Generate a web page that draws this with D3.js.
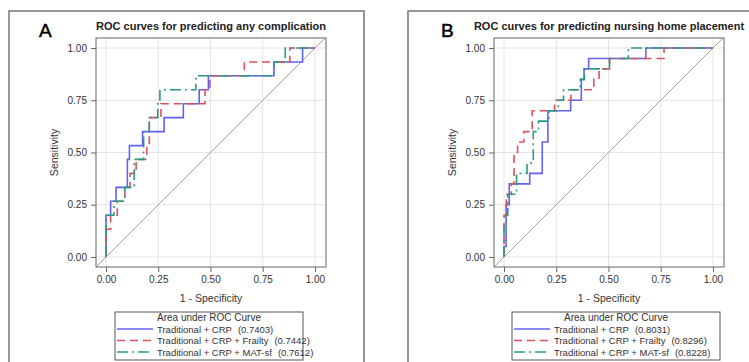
<!DOCTYPE html>
<html>
<head>
<meta charset="utf-8">
<script src="https://cdn.jsdelivr.net/npm/d3@7"></script>
<style>
  body { margin: 0; background: #fff; }
  svg { font-family: "Liberation Sans", Arial, sans-serif; }
</style>
</head>
<body>
<svg id="chart" width="749" height="362"></svg>
<script>
// ROC points [1 - specificity, sensitivity]
var rocA_crp = [[0,0],[0,0.2],[0.022,0.267],[0.048,0.333],[0.102,0.467],[0.112,0.533],[0.175,0.6],[0.278,0.667],[0.37,0.733],[0.446,0.8],[0.49,0.867],[0.804,0.933],[0.941,1],[1,1]]
var rocA_frailty = [[0,0],[0,0.133],[0.022,0.2],[0.054,0.267],[0.09,0.333],[0.115,0.4],[0.144,0.467],[0.195,0.533],[0.207,0.667],[0.263,0.733],[0.474,0.8],[0.497,0.867],[0.662,0.933],[0.88,1],[1,1]]
var rocA_matsf = [[0,0],[0,0.2],[0.038,0.267],[0.09,0.333],[0.135,0.467],[0.18,0.6],[0.207,0.667],[0.248,0.733],[0.258,0.8],[0.43,0.867],[0.804,0.933],[0.858,1],[1,1]]

var rocB_crp = [[0,0],[0,0.05],[0.01,0.25],[0.025,0.35],[0.123,0.4],[0.183,0.55],[0.21,0.7],[0.319,0.75],[0.37,0.85],[0.383,0.9],[0.405,0.95],[0.679,1],[1,1]]
var rocB_frailty = [[0,0],[0,0.2],[0.011,0.3],[0.035,0.35],[0.048,0.5],[0.065,0.55],[0.095,0.6],[0.135,0.7],[0.242,0.75],[0.32,0.8],[0.43,0.85],[0.455,0.9],[0.505,0.95],[0.766,1],[1,1]]
var rocB_matsf = [[0,0],[0,0.15],[0.01,0.2],[0.018,0.3],[0.06,0.4],[0.11,0.45],[0.14,0.6],[0.165,0.65],[0.215,0.7],[0.26,0.75],[0.285,0.8],[0.365,0.85],[0.385,0.9],[0.505,0.95],[0.595,1],[1,1]]

var modelNames = ['Traditional + CRP', 'Traditional + CRP + Frailty', 'Traditional + CRP + MAT-sf']
var aucA = ['0.7403', '0.7442', '0.7612']
var aucB = ['0.8031', '0.8296', '0.8228']
var tickValues = [0, 0.25, 0.5, 0.75, 1]

var colors = ['#6262f6', '#e0505c', '#2b9a82']
var dashes = [null, '8,5', '11,4,2,4']

var svg = d3.select('#chart')

function drawPanel(opt) {
    // outer panel box
    svg.append('rect')
        .attr('x', opt.boxX).attr('y', 11)
        .attr('width', opt.boxW).attr('height', 400)
        .attr('fill', 'none').attr('stroke', '#777').attr('stroke-width', 1.5)

    svg.append('text')
        .attr('x', opt.letterX).attr('y', 37)
        .attr('font-size', 19).attr('fill', '#000')
        .attr('stroke', '#000').attr('stroke-width', 0.5)
        .text(opt.letter)

    var left = opt.frameX, top = 38, w = 230, h = 229
    var x = d3.scaleLinear().domain([-0.048, 1.053]).range([left, left + w])
    var y = d3.scaleLinear().domain([-0.048, 1.048]).range([top + h, top])

    svg.append('text')
        .attr('x', left + w / 2).attr('y', 30)
        .attr('text-anchor', 'middle')
        .attr('font-size', 11).attr('font-weight', 'bold').attr('fill', '#222')
        .text(opt.title)

    var g = svg.append('g')
    // grid
    g.selectAll('.gx').data(tickValues).enter().append('line')
        .attr('x1', d => x(d)).attr('x2', d => x(d))
        .attr('y1', top).attr('y2', top + h)
        .attr('stroke', '#e4e4e4').attr('stroke-width', 1)
    g.selectAll('.gy').data(tickValues).enter().append('line')
        .attr('y1', d => y(d)).attr('y2', d => y(d))
        .attr('x1', left).attr('x2', left + w)
        .attr('stroke', '#e4e4e4').attr('stroke-width', 1)

    // chance line across the frame
    g.append('line')
        .attr('x1', x(-0.048)).attr('y1', y(-0.048))
        .attr('x2', x(1.048)).attr('y2', y(1.048))
        .attr('stroke', '#a4a4a4').attr('stroke-width', 1)

    var line = d3.line()
        .x(d => x(d[0])).y(d => y(d[1]))
        .curve(d3.curveStepAfter)

    opt.curves.forEach(function(c, i) {
        g.append('path')
            .datum(c)
            .attr('d', line)
            .attr('fill', 'none')
            .attr('stroke', colors[i])
            .attr('stroke-width', 1.6)
            .attr('stroke-dasharray', dashes[i])
    })

    // frame
    svg.append('rect')
        .attr('x', left).attr('y', top).attr('width', w).attr('height', h)
        .attr('fill', 'none').attr('stroke', '#666').attr('stroke-width', 1)

    var xAxis = d3.axisBottom(x).tickValues(tickValues).tickFormat(d3.format('.2f'))
        .tickSizeOuter(0).tickSizeInner(5).tickPadding(4)
    var yAxis = d3.axisLeft(y).tickValues(tickValues).tickFormat(d3.format('.2f'))
        .tickSizeOuter(0).tickSizeInner(5).tickPadding(4)
    var ax = svg.append('g').attr('transform', 'translate(0,' + (top + h) + ')').call(xAxis)
    var ay = svg.append('g').attr('transform', 'translate(' + left + ',0)').call(yAxis)
    ;[ax, ay].forEach(function(a) {
        a.select('.domain').remove()
        a.selectAll('line').attr('stroke', '#666')
        a.selectAll('text').attr('font-size', 10).attr('fill', '#333')
            .attr('font-family', '"Liberation Sans", Arial, sans-serif')
    })

    svg.append('text')
        .attr('x', left + w / 2).attr('y', 302)
        .attr('text-anchor', 'middle').attr('font-size', 10.5).attr('fill', '#333')
        .text('1 - Specificity')
    svg.append('text')
        .attr('transform', 'translate(' + (left - 38) + ',' + (top + h / 2) + ') rotate(-90)')
        .attr('text-anchor', 'middle').attr('font-size', 10.5).attr('fill', '#333')
        .text('Sensitivity')

    // legend
    var lg = svg.append('g')
    lg.append('rect')
        .attr('x', opt.legX).attr('y', 312)
        .attr('width', opt.legW).attr('height', 48)
        .attr('fill', '#fff').attr('stroke', '#555').attr('stroke-width', 1)
    lg.append('text')
        .attr('x', opt.legX + opt.legW / 2).attr('y', 321)
        .attr('text-anchor', 'middle').attr('font-size', 10).attr('fill', '#333')
        .text('Area under ROC Curve')
    modelNames.forEach(function(name, i) {
        var yy = 329 + i * 11.5
        lg.append('line')
            .attr('x1', opt.legX + 2).attr('x2', opt.legX + 38)
            .attr('y1', yy).attr('y2', yy)
            .attr('stroke', colors[i]).attr('stroke-width', 1.6)
            .attr('stroke-dasharray', dashes[i])
        var t = lg.append('text')
            .attr('x', opt.legX + 42).attr('y', yy + 3.5)
            .attr('font-size', 9.5).attr('fill', '#333')
        t.append('tspan').text(name)
        t.append('tspan').attr('dx', 6).text('(' + opt.auc[i] + ')')
    })
}

drawPanel({
    boxX: 9, boxW: 355, letter: 'A', letterX: 39, frameX: 96,
    title: 'ROC curves for predicting any complication',
    curves: [rocA_crp, rocA_frailty, rocA_matsf], auc: aucA,
    legX: 115, legW: 188
})
drawPanel({
    boxX: 408, boxW: 360, letter: 'B', letterX: 441, frameX: 494,
    title: 'ROC curves for predicting nursing home placement',
    curves: [rocB_crp, rocB_frailty, rocB_matsf], auc: aucB,
    legX: 512, legW: 208
})
</script>
</body>
</html>
